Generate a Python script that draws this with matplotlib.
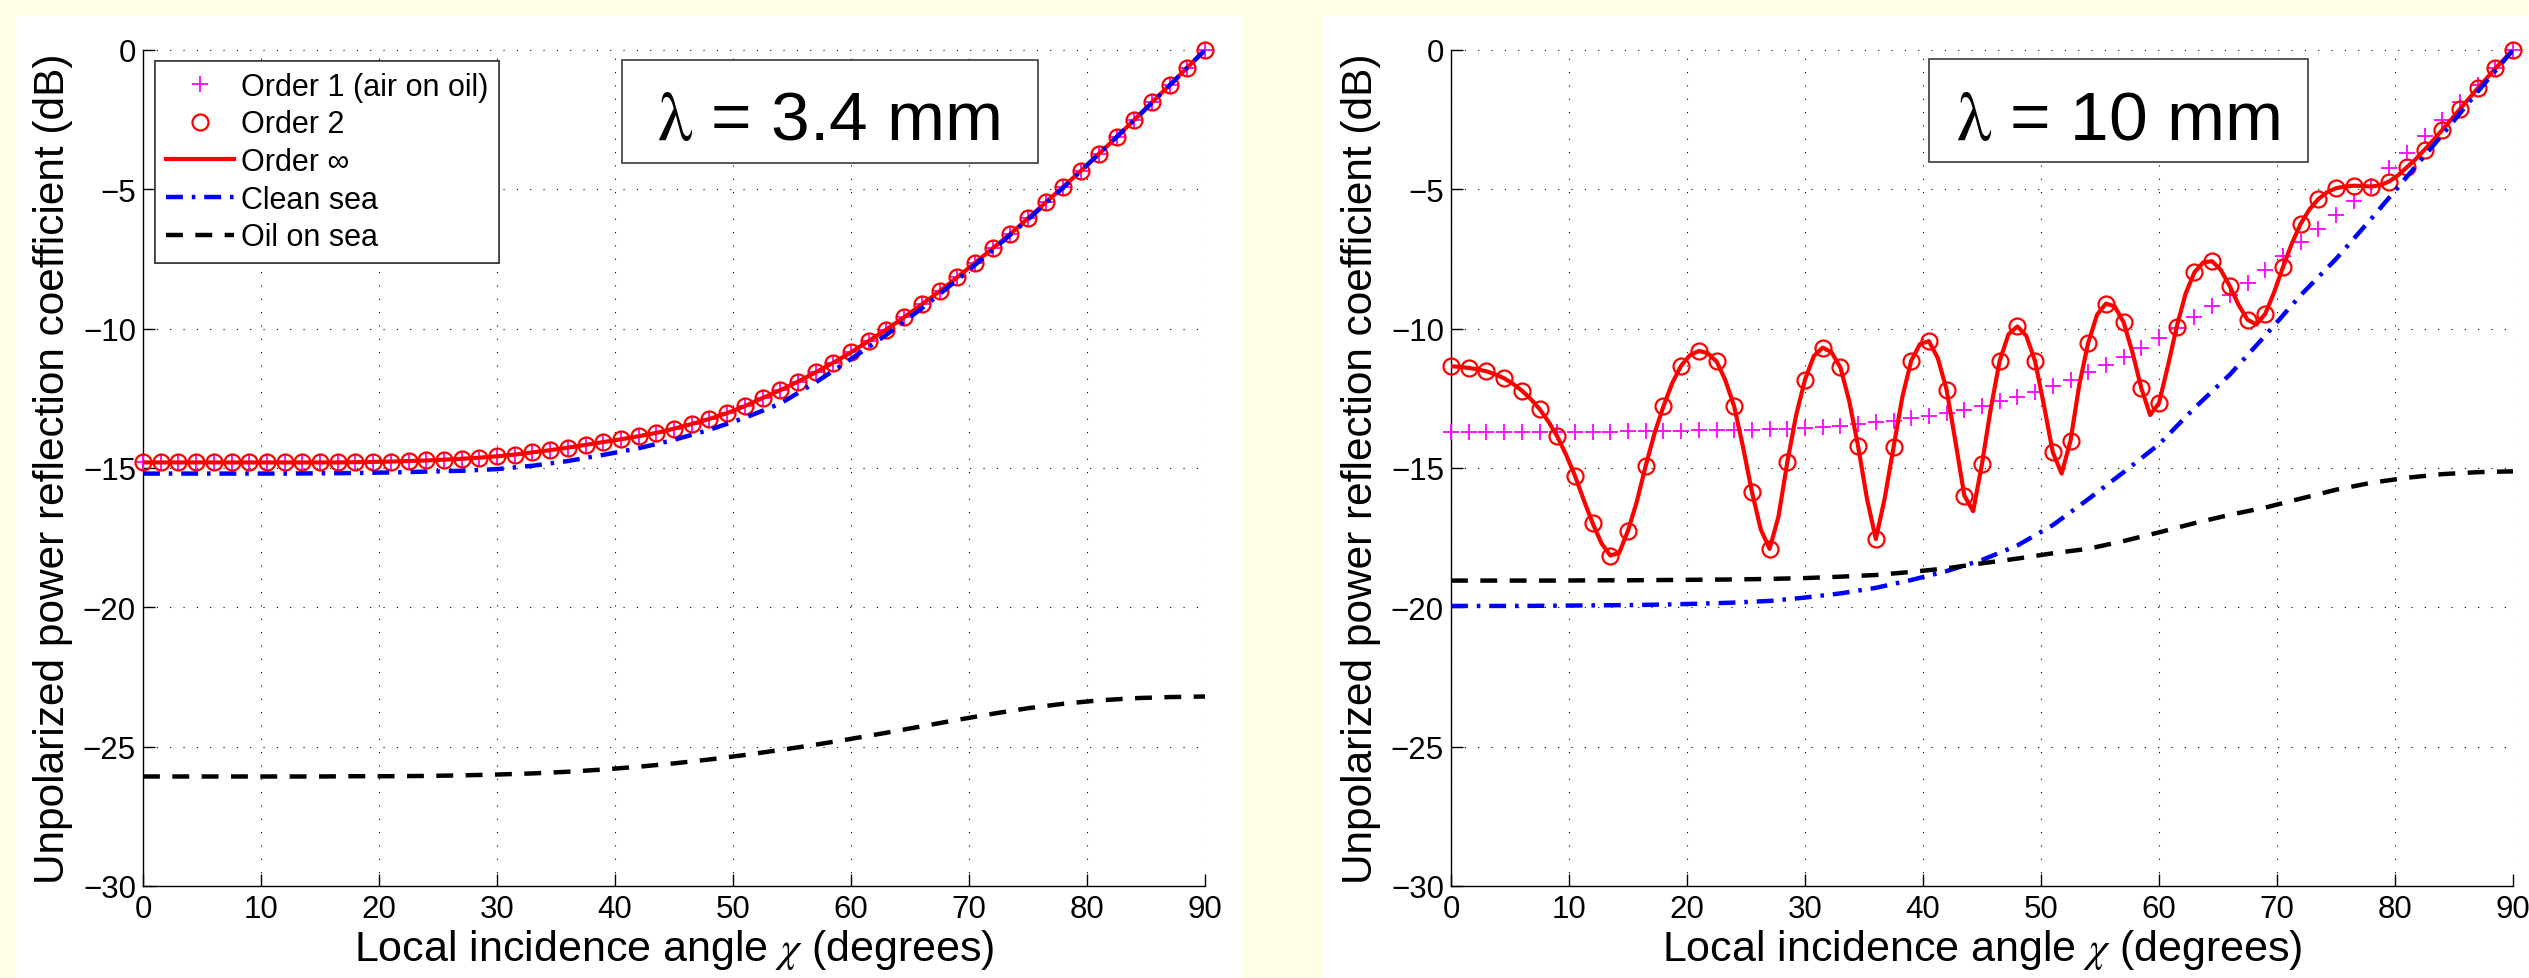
import numpy as np
import matplotlib
matplotlib.use("Agg")
import matplotlib.pyplot as plt
from matplotlib.patches import Rectangle
from matplotlib.lines import Line2D

plt.rcParams['font.family'] = ['Liberation Sans', 'DejaVu Sans']
plt.rcParams['mathtext.fontset'] = 'stix'
plt.rcParams['axes.unicode_minus'] = True

# ---------------- data ----------------
angles_mk = np.linspace(0, 90, 61)     # marker sampling (1.5 deg)
angles_fine = np.linspace(0, 90, 121)  # fine sampling (0.75 deg)
angles_ln = np.linspace(0, 90, 31)     # smooth line sampling (3 deg)

titles = ["\u03bb = 3.4 mm", "\u03bb = 10 mm"]
xticks = [0, 10, 20, 30, 40, 50, 60, 70, 80, 90]
yticks = [-30, -25, -20, -15, -10, -5, 0]
legend_labels = ["Order 1 (air on oil)", "Order 2", "Order \u221e", "Clean sea", "Oil on sea"]

# lambda = 3.4 mm: orders 1, 2 and infinity coincide
left_orders = [-14.80, -14.80, -14.80, -14.80, -14.80, -14.80, -14.80, -14.80, -14.80, -14.80,
               -14.80, -14.80, -14.79, -14.78, -14.77, -14.75, -14.73, -14.70, -14.67, -14.63,
               -14.58, -14.52, -14.44, -14.36, -14.27, -14.17, -14.07, -13.97, -13.86, -13.74,
               -13.59, -13.42, -13.24, -13.03, -12.78, -12.49, -12.21, -11.90, -11.57, -11.22,
               -10.85, -10.44, -10.03, -9.59, -9.13, -8.66, -8.16, -7.64, -7.12, -6.60,
               -6.04, -5.47, -4.90, -4.33, -3.73, -3.13, -2.51, -1.88, -1.26, -0.63, 0.00]
left_clean = [-15.20, -15.20, -15.20, -15.20, -15.20, -15.19, -15.18, -15.16, -15.13, -15.10,
              -15.04, -14.92, -14.75, -14.53, -14.29, -13.99, -13.63, -13.20, -12.69, -11.93,
              -11.09, -10.22, -9.27, -8.25, -7.18, -6.08, -4.93, -3.73, -2.52, -1.27, 0.00]
left_oil = [-26.07, -26.07, -26.07, -26.07, -26.07, -26.07, -26.06, -26.06, -26.05, -26.03,
            -26.00, -25.96, -25.90, -25.82, -25.72, -25.60, -25.46, -25.30, -25.12, -24.93,
            -24.72, -24.50, -24.27, -24.04, -23.82, -23.62, -23.46, -23.34, -23.26, -23.22, -23.20]

# lambda = 10 mm
right_order1 = [-13.72, -13.72, -13.72, -13.72, -13.72, -13.72, -13.71, -13.71, -13.70, -13.70,
                -13.69, -13.68, -13.67, -13.66, -13.65, -13.64, -13.63, -13.62, -13.61, -13.59,
                -13.57, -13.54, -13.48, -13.42, -13.36, -13.30, -13.22, -13.12, -13.03, -12.91,
                -12.76, -12.61, -12.44, -12.26, -12.05, -11.83, -11.57, -11.29, -11.00, -10.70,
                -10.35, -9.98, -9.59, -9.17, -8.79, -8.37, -7.88, -7.38, -6.90, -6.42,
                -5.91, -5.41, -4.89, -4.25, -3.70, -3.10, -2.50, -1.88, -1.26, -0.66, 0.00]
right_order_inf = [-11.35, -11.37, -11.41, -11.46, -11.53, -11.64, -11.78, -11.98, -12.22, -12.52,
                   -12.88, -13.33, -13.86, -14.52, -15.27, -16.15, -16.98, -17.70, -18.14, -18.05,
                   -17.25, -16.20, -14.92, -13.75, -12.79, -11.95, -11.33, -10.95, -10.80, -10.88,
                   -11.17, -11.85, -12.79, -14.25, -15.85, -17.20, -17.90, -16.75, -14.79, -13.10,
                   -11.83, -10.98, -10.68, -10.85, -11.39, -12.60, -14.22, -16.10, -17.55, -16.10,
                   -14.26, -12.45, -11.15, -10.55, -10.45, -11.05, -12.19, -14.05, -15.99, -16.55,
                   -14.85, -12.85, -11.15, -10.20, -9.92, -10.25, -11.17, -12.75, -14.44, -15.20,
                   -14.02, -12.00, -10.51, -9.50, -9.10, -9.20, -9.77, -10.85, -12.13, -13.10,
                   -12.67, -11.35, -9.93, -8.75, -7.98, -7.62, -7.58, -7.90, -8.48, -9.15,
                   -9.68, -9.85, -9.47, -8.70, -7.80, -6.95, -6.24, -5.72, -5.35, -5.10,
                   -4.96, -4.90, -4.87, -4.88, -4.90, -4.85, -4.72, -4.50, -4.21, -3.92,
                   -3.58, -3.23, -2.87, -2.50, -2.12, -1.75, -1.38, -1.02, -0.66, -0.33, 0.00]
right_order2 = right_order_inf[::2]
right_clean = [-19.95, -19.95, -19.95, -19.94, -19.93, -19.92, -19.90, -19.87, -19.83, -19.77,
               -19.65, -19.50, -19.30, -19.02, -18.70, -18.30, -17.78, -17.05, -16.12, -15.15,
               -14.15, -12.85, -11.65, -10.25, -8.80, -7.50, -6.05, -4.55, -3.05, -1.50, 0.00]
right_oil = [-19.04, -19.04, -19.04, -19.04, -19.03, -19.03, -19.02, -19.01, -19.00, -18.98,
             -18.95, -18.90, -18.84, -18.73, -18.60, -18.42, -18.25, -18.06, -17.90, -17.62,
             -17.31, -16.98, -16.68, -16.42, -16.10, -15.78, -15.53, -15.35, -15.22, -15.15, -15.12]

panels = [
    dict(o1=(angles_mk, left_orders), o2=(angles_mk, left_orders), oinf=(angles_mk, left_orders),
         clean=left_clean, oil=left_oil, title=titles[0]),
    dict(o1=(angles_mk, right_order1), o2=(angles_mk, right_order2), oinf=(angles_fine, right_order_inf),
         clean=right_clean, oil=right_oil, title=titles[1]),
]

# ---------------- styling ----------------
BG = '#FFFFE6'
MAGENTA = '#FF00FF'
RED = '#FF0000'
BLUE = '#0000FF'
W, H = 2529, 979
fig = plt.figure(figsize=(W / 100, H / 100), dpi=100, facecolor=BG)

# white panels behind each subplot
for x0, x1 in [(16, 1242), (1324, 2529)]:
    fig.patches.append(Rectangle((x0 / W, 0), (x1 - x0) / W, (H - 17) / H,
                                 transform=fig.transFigure, facecolor='white',
                                 edgecolor='none', zorder=-5))

axes_px = [(143, 1205), (1451, 2513)]
ytop, ybot = 51, 887
boxes = [(622, 1038, 61, 164), (1929, 2308, 60, 163)]
text_cx = [828, 2118]

dash_clean = (0, (3.8, 2.0, 0.8, 2.0))
dash_oil = (0, (3.8, 2.8))

for i, p in enumerate(panels):
    xl, xr = axes_px[i]
    ax = fig.add_axes([xl / W, (H - ybot) / H, (xr - xl) / W, (ybot - ytop) / H])
    ax.set_zorder(1)
    ax.set_facecolor('white')
    ax.set_xlim(0, 90)
    ax.set_ylim(-30, 0)
    ax.set_xticks(xticks)
    ax.set_yticks(yticks)
    ax.grid(True, color='k', linestyle=(0, (1, 11)), linewidth=0.8)
    ax.set_axisbelow(True)
    for s in ['top', 'right']:
        ax.spines[s].set_visible(False)
    for s in ['left', 'bottom']:
        ax.spines[s].set_linewidth(1.0)
    ax.tick_params(direction='in', length=8.5, width=1.0, labelsize=22.5)
    ax.tick_params(axis='x', pad=6)
    ax.tick_params(axis='y', pad=5)

    ax.plot(p['o1'][0], p['o1'][1], linestyle='none', marker='+', color=MAGENTA,
            markersize=12, markeredgewidth=1.3, clip_on=False, zorder=3)
    ax.plot(p['o2'][0], p['o2'][1], linestyle='none', marker='o', markerfacecolor='none',
            markeredgecolor=RED, markersize=11.5, markeredgewidth=1.6, clip_on=False, zorder=4)
    ax.plot(p['oinf'][0], p['oinf'][1], color=RED, linewidth=3.0, zorder=5)
    ax.plot(angles_ln, p['clean'], color=BLUE, linewidth=3.2, linestyle=dash_clean, zorder=6)
    ax.plot(angles_ln, p['oil'], color='k', linewidth=3.2, linestyle=dash_oil, zorder=6)

    ax.set_xlabel(r'Local incidence angle $\chi$ (degrees)', fontsize=31, labelpad=2)
    ax.set_ylabel('Unpolarized power reflection coefficient (dB)', fontsize=30.5, labelpad=7)

    handles = [
        Line2D([], [], linestyle='none', marker='+', color=MAGENTA, markersize=12, markeredgewidth=1.3),
        Line2D([], [], linestyle='none', marker='o', markerfacecolor='none', markeredgecolor=RED,
               markersize=11.5, markeredgewidth=1.6),
        Line2D([], [], color=RED, linewidth=3.0),
        Line2D([], [], color=BLUE, linewidth=3.2, linestyle=dash_clean),
        Line2D([], [], color='k', linewidth=3.2, linestyle=dash_oil),
    ]
    leg = ax.legend(handles, legend_labels, loc='upper left',
                    bbox_to_anchor=((155 - xl) / (xr - xl), (ybot - 62) / (ybot - ytop)),
                    borderaxespad=0, fontsize=22, frameon=True, fancybox=False,
                    handlelength=2.25, handletextpad=0.2, labelspacing=0.25,
                    borderpad=0.35, framealpha=1)
    leg.get_frame().set_edgecolor('#3a3a3a')
    leg.get_frame().set_linewidth(1.2)
    leg.set_zorder(10)

    bx0, bx1, by0, by1 = boxes[i]
    ax.add_patch(Rectangle(((bx0 - xl) / (xr - xl), (ybot - by1) / (ybot - ytop)),
                           (bx1 - bx0) / (xr - xl), (by1 - by0) / (ybot - ytop),
                           transform=ax.transAxes, facecolor='white', edgecolor='#3a3a3a',
                           linewidth=1.2, zorder=9, clip_on=False))
    title = p['title'].replace('\u03bb', r'$\mathrm{\lambda}$')
    ax.text((text_cx[i] - xl) / (xr - xl), (ybot - 140) / (ybot - ytop), title,
            transform=ax.transAxes, ha='center', va='baseline', fontsize=50, zorder=11)

fig.savefig('out.png', dpi=100, facecolor=BG)
